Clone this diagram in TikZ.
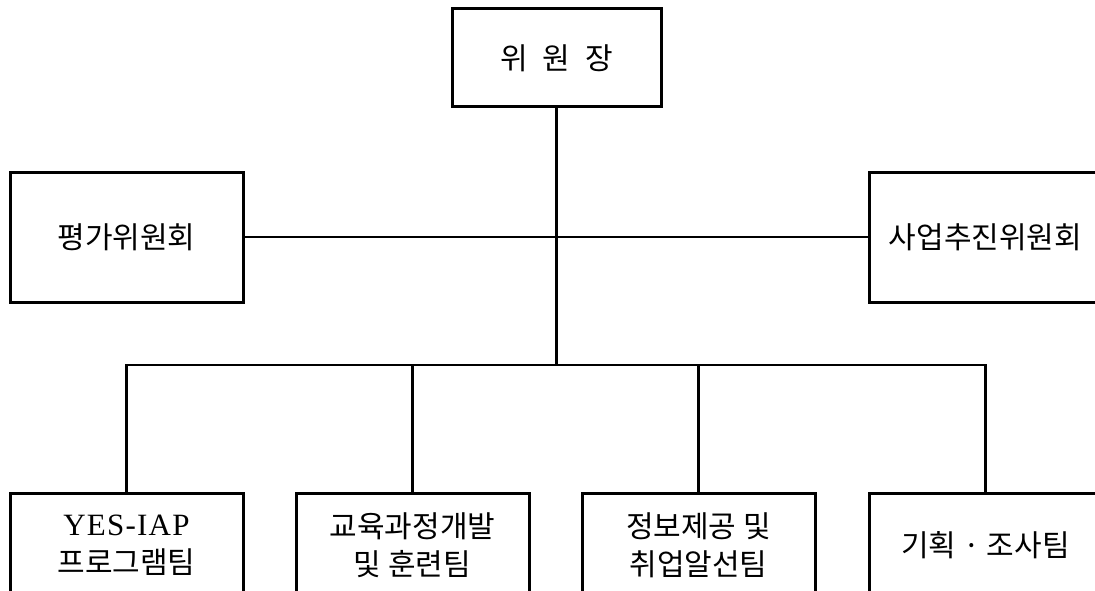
\documentclass[tikz,border=0pt]{standalone}
\usepackage{fontspec}
\setmainfont{Liberation Serif}
\newfontfamily\kr{Noto Sans CJK KR}
\begin{document}
\begin{tikzpicture}[x=1pt,y=-1pt,
  box/.style={draw,line width=3pt,minimum width=233pt,minimum height=130pt,inner sep=0pt,align=center,font=\kr\fontsize{30}{38}\selectfont},
  lowbox/.style={box,minimum height=104pt},
  conn/.style={line width=2.4pt}]
\useasboundingbox (0,0) rectangle (1095,591);
\clip (0,0) rectangle (1095,591);
\node[box,minimum width=209pt,minimum height=98pt] (top) at (556.5,58) {위\hspace{0.5em}원\hspace{0.5em}장};
\node[box] (left) at (126.5,237) {평가위원회};
\node[box] (right) at (985.5,237) {사업추진위원회};
\node[lowbox] (b1) at (126.5,545) {{\rmfamily\fontsize{31}{38}\selectfont\addfontfeature{LetterSpace=4}YES-IAP}\\프로그램팀};
\node[lowbox] (b2) at (412.5,545) {교육과정개발\\및 훈련팀};
\node[lowbox] (b3) at (698.5,545) {정보제공 및\\취업알선팀};
\node[lowbox] (b4) at (985.5,545) {기획 · 조사팀};
\coordinate (bus) at (556.5,365);
\draw[conn] (top.south) -- (bus);
\draw[conn] (left.east) -- (right.west);
\draw[conn] (b1.north) |- (bus);
\draw[conn] (b2.north) |- (bus);
\draw[conn] (b3.north) |- (bus);
\draw[conn] (b4.north) |- (bus);
\end{tikzpicture}
\end{document}
